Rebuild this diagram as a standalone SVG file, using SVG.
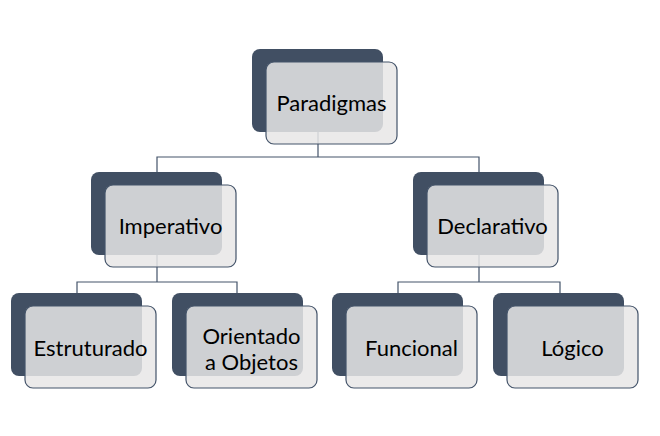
<svg xmlns="http://www.w3.org/2000/svg" width="660" height="436" viewBox="0 0 660 436">
<style>
.bg{fill:#414f63}
.fg{fill:#e7e6e6;fill-opacity:0.85;stroke:#44546a;stroke-width:1.2}
.t{font-family:Lato,"Open Sans","Liberation Sans",sans-serif;font-size:22px;fill:#000;text-anchor:middle}
.c{fill:none;stroke:#44546a;stroke-width:1.2}
</style>
<rect width="660" height="436" fill="#fff"/>
<g id="connectors">
<path class="c" d="M157 172V157H479V172M318 132V157"/>
<path class="c" d="M77 293V282H237V293M157 254V282"/>
<path class="c" d="M398 293V282H560V293M479 254V282"/>
</g>
<g id="paradigmas"><rect class="bg" x="252" y="49" width="131" height="83" rx="8"/><rect class="fg" x="266" y="62" width="131" height="82" rx="8"/><text class="t" x="331.5" y="111">Paradigmas</text></g>
<g id="imperativo"><rect class="bg" x="91" y="172" width="131" height="83" rx="8"/><rect class="fg" x="105" y="185" width="131" height="82" rx="8"/><text class="t" x="170.5" y="234">Imperativo</text></g>
<g id="declarativo"><rect class="bg" x="413" y="172" width="131" height="83" rx="8"/><rect class="fg" x="427" y="185" width="131" height="82" rx="8"/><text class="t" x="492.5" y="234">Declarativo</text></g>
<g id="estruturado"><rect class="bg" x="11" y="293" width="131" height="83" rx="8"/><rect class="fg" x="25" y="306" width="131" height="82" rx="8"/><text class="t" x="90.5" y="356">Estruturado</text></g>
<g id="orientado"><rect class="bg" x="172" y="293" width="131" height="83" rx="8"/><rect class="fg" x="186" y="306" width="131" height="82" rx="8"/><text class="t" x="251.5" y="344">Orientado</text><text class="t" x="251.5" y="370">a Objetos</text></g>
<g id="funcional"><rect class="bg" x="332" y="293" width="131" height="83" rx="8"/><rect class="fg" x="346" y="306" width="131" height="82" rx="8"/><text class="t" x="411.5" y="356">Funcional</text></g>
<g id="logico"><rect class="bg" x="493" y="293" width="131" height="83" rx="8"/><rect class="fg" x="507" y="306" width="131" height="82" rx="8"/><text class="t" x="572.5" y="356">Lógico</text></g>
</svg>
